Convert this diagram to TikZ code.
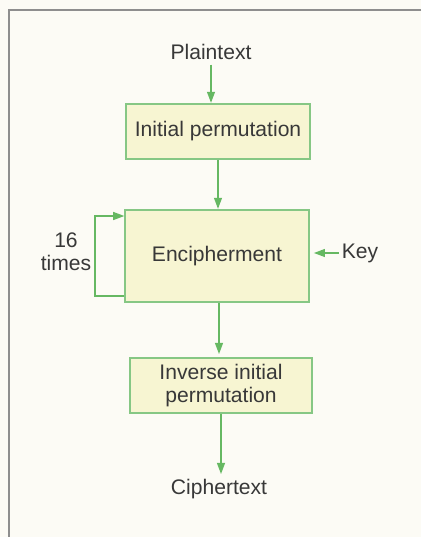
\documentclass[tikz,border=0pt]{standalone}
\usepackage{fontspec}
\setsansfont{Liberation Sans}
\usetikzlibrary{arrows.meta,positioning}

\definecolor{paper}{HTML}{FCFBF5}
\definecolor{framegray}{HTML}{8E8E8E}
\definecolor{ink}{HTML}{383838}
\definecolor{boxfill}{HTML}{F7F5D2}
\definecolor{boxline}{HTML}{86C784}
\definecolor{flowgreen}{HTML}{66B862}

\begin{document}
\begin{tikzpicture}[
  x=0.025cm, y=-0.025cm,
  font=\sffamily\fontsize{15}{16.5}\selectfont,
  every node/.style={text=ink},
  stage/.style={draw=boxline, fill=boxfill, line width=1.4pt, align=center, inner sep=0pt},
  flow/.style={draw=flowgreen, line width=1.4pt, -{Triangle[length=8pt, width=5.5pt]}}
]
\fill[paper] (0,0) rectangle (421,537);
\useasboundingbox (0,0) rectangle (421,537);
\draw[framegray, line width=1.4pt] (421,10) -- (9,10) -- (9,537);

\node (plain) at (211,52) {Plaintext};
\node[stage, minimum width=4.6cm, minimum height=1.375cm] (init) at (218,131.5) {Initial permutation};
\node[stage, minimum width=4.575cm, minimum height=2.3cm] (enc) at (217,256) {Encipherment};
\node[stage, minimum width=4.55cm, minimum height=1.375cm] (inv) at (221,385.5) {Inverse initial\\permutation};
\node (ciph) at (219,489) {Ciphertext};
\node[inner sep=2pt] (key) at (360,253) {Key};
\node[align=center] (times) at (66,252) {16\\times};

\draw[flow] (plain) -- (plain |- init.north);
\draw[flow] (init.south) -- (init.south |- enc.north);
\draw[flow, shorten >=2pt] ([xshift=0.05cm]enc.south) -- ([xshift=0.05cm]enc.south |- inv.north);
\draw[flow] (inv.south) -- (inv.south |- ciph.north);
\draw[flow, shorten >=3pt] (key) -- (key -| enc.east);
\draw[flow] ([yshift=0.175cm]enc.south west) -- ++(-29.5,0) |- ([yshift=-0.175cm]enc.north west);
\end{tikzpicture}
\end{document}
